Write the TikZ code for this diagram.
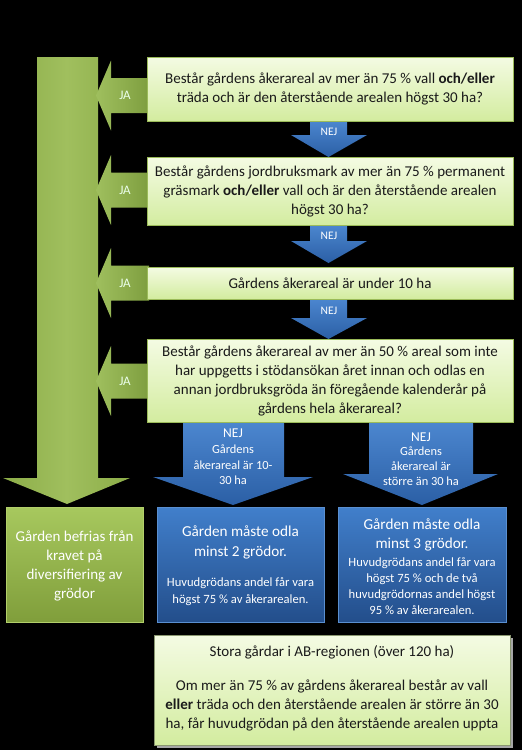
\documentclass[tikz,border=0pt]{standalone}
\usepackage{fontspec}
\setmainfont{Carlito}
\definecolor{txtdark}{HTML}{1A1A1A}
\definecolor{lgTop}{HTML}{F4FBE3}
\definecolor{lgBot}{HTML}{D3EC9F}
\definecolor{lgLine}{HTML}{9BBB59}
\definecolor{bigMid}{HTML}{A0BF5E}
\definecolor{bigSide}{HTML}{8CAD48}
\definecolor{jaL}{HTML}{9FBF5E}
\definecolor{jaR}{HTML}{7E9E3F}
\definecolor{nejTop}{HTML}{4C87D0}
\definecolor{nejBot}{HTML}{2B5FA5}
\definecolor{bbTop}{HTML}{417FCB}
\definecolor{bbBot}{HTML}{234E8B}
\definecolor{bbLine}{HTML}{5A8FD0}
\definecolor{gbTop}{HTML}{A7C85E}
\definecolor{gbBot}{HTML}{809E3B}
\definecolor{gbLine}{HTML}{B2CF6A}
\tikzset{
  qbox/.style={draw=lgLine, line width=1pt, top color=lgTop, bottom color=lgBot,
    inner sep=0pt, align=center, text=txtdark,
    font=\fontsize{15}{19}\selectfont},
  bluebox/.style={draw=bbLine, line width=0.8pt, top color=bbTop, bottom color=bbBot, inner sep=0pt},
  greenbox/.style={draw=gbLine, line width=0.8pt, top color=gbTop, bottom color=gbBot, inner sep=0pt},
  jashade/.style={left color=jaL, right color=jaR},
  nejshade/.style={top color=nejTop, bottom color=nejBot},
  jalabel/.style={text=white!92!green, font=\fontsize{13}{15}\selectfont, inner sep=0pt},
  nejlabel/.style={text=white, font=\fontsize{11.5}{13}\selectfont, inner sep=0pt},
  wtext/.style={text=white, align=center, inner sep=0pt},
}
\newcommand\jablock[2]{%
  \shade[jashade] (149,{#1-17.5}) -- (111,{#1-17.5}) -- (111,{#1-35}) -- (96,#1)
    -- (111,{#1+35}) -- (111,{#1+17.5}) -- (149,{#1+17.5}) -- cycle;
  \node[jalabel] (#2) at (125,#1) {JA};}
\newcommand\nejblock[5]{%
  \shade[nejshade] (310,#1) -- (347,#1) -- (347,#2) -- (367,#2) -- (328.5,#3)
    -- (291,#2) -- (310,#2) -- cycle;
  \node[nejlabel] (#4) at (329,#5) {NEJ};}
\begin{document}
\begin{tikzpicture}[x=1pt,y=-1pt]
\fill[black] (0,0) rectangle (522,750);
\useasboundingbox (0,0) rectangle (522,750);

% big green arrow
\shade[left color=bigSide, right color=bigSide, middle color=bigMid]
  (37,57) -- (98,57) -- (98,478) -- (130,478) -- (67,504) -- (3,478) -- (37,478) -- cycle;

% JA arrows
\jablock{95.5}{ja1}
\jablock{190}{ja2}
\jablock{283}{ja3}
\jablock{381}{ja4}

% NEJ small arrows
\nejblock{120}{135}{157}{nej1}{132}
\nejblock{224}{241}{263}{nej2}{236}
\nejblock{298}{318}{339}{nej3}{311}

% big NEJ arrows
\shade[nejshade] (183,421) -- (284,421) -- (284,477) -- (313,477) -- (233,505)
  -- (153,477) -- (183,477) -- cycle;
\node[wtext, font=\fontsize{12.4}{15.7}\selectfont] (nej4) at (233,457)
  {{\fontsize{13.5}{15.7}\selectfont NEJ}\\Gårdens\\åkerareal är 10-\\30 ha};
\shade[nejshade] (369,421) -- (473,421) -- (473,474) -- (498,474) -- (422,505)
  -- (343,474) -- (369,474) -- cycle;
\node[wtext, font=\fontsize{12.4}{14.7}\selectfont] (nej5) at (421,459)
  {{\fontsize{13.5}{14.7}\selectfont NEJ}\\Gårdens\\åkerareal är\\större än 30 ha};

% question boxes
\node[qbox, minimum width=366pt, minimum height=64pt] (q1) at (330,89)
  {Består gårdens åkerareal av mer än 75 \% vall \textbf{och/eller}\\
   träda och är den återstående arealen högst 30 ha?};
\node[qbox, minimum width=366pt, minimum height=68pt] (q2) at (330,191.5)
  {Består gårdens jordbruksmark av mer än 75 \% permanent\\
   gräsmark \textbf{och/eller} vall och är den återstående arealen\\
   högst 30 ha?};
\node[qbox, minimum width=366pt, minimum height=32pt] (q3) at (330,283)
  {Gårdens åkerareal är under 10 ha};
\node[qbox, minimum width=366pt, minimum height=83pt] (q4) at (330,381)
  {Består gårdens åkerareal av mer än 50 \% areal som inte\\
   har uppgetts i stödansökan året innan och odlas en\\
   annan jordbruksgröda än föregående kalenderår på\\
   gårdens hela åkerareal?};

% result boxes
\node[greenbox, minimum width=137pt, minimum height=115pt] (r0) at (74.5,564.5) {};
\node[wtext, font=\fontsize{15}{19.3}\selectfont] (r0t) at (74.5,566)
  {Gården befrias från\\kravet på\\diversifiering av\\grödor};

\node[bluebox, minimum width=167pt, minimum height=115pt] (r1) at (240.5,564.5) {};
\node[wtext, font=\fontsize{15.2}{19.5}\selectfont] (r1a) at (240.5,542.5)
  {Gården måste odla\\minst 2 grödor.};
\node[wtext, font=\fontsize{12.6}{17}\selectfont] (r1b) at (240.5,591.5)
  {Huvudgrödans andel får vara\\högst 75 \% av åkerarealen.};

\node[bluebox, minimum width=168pt, minimum height=115pt] (r2) at (422,564.5) {};
\node[wtext, font=\fontsize{15.2}{19}\selectfont] (r2a) at (422,534.5)
  {Gården måste odla\\minst 3 grödor.};
\node[wtext, font=\fontsize{12.6}{16}\selectfont] (r2b) at (422,586)
  {Huvudgrödans andel får vara\\högst 75 \% och de två\\huvudgrödornas andel högst\\95 \% av åkerarealen.};

% bottom info box
\fill[gray!70] (157,638) rectangle (513,748);
\node[qbox, draw=gray!60!lgLine, line width=0.8pt, minimum width=356pt, minimum height=110pt] (info) at (332,690) {};
\node[text=txtdark, font=\fontsize{15}{19}\selectfont, inner sep=0pt] (infot) at (332,652)
  {Stora gårdar i AB-regionen (över 120 ha)};
\node[text=txtdark, align=center, font=\fontsize{15}{19}\selectfont, inner sep=0pt] (infob) at (332,705)
  {Om mer än 75 \% av gårdens åkerareal består av vall\\
   \textbf{eller} träda och den återstående arealen är större än 30\\
   ha, får huvudgrödan på den återstående arealen uppta};
\end{tikzpicture}
\end{document}
